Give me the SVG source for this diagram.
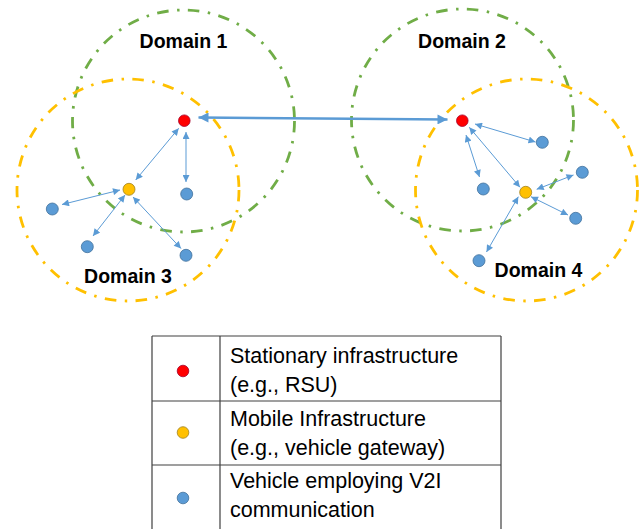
<svg xmlns="http://www.w3.org/2000/svg" width="644" height="529" viewBox="0 0 644 529">
<style>
.dom{fill:none;stroke-width:2.8;stroke-dasharray:11.5 8.5 2.5 8.5}
.g{stroke:#70AD47}
.y{stroke:#FFC000}
.red{fill:#FF0000;stroke:#A5002A;stroke-width:0.8}
.yel{fill:#FFC000;stroke:#A08020;stroke-width:0.8}
.blu{fill:#5B9BD5;stroke:#41719C;stroke-width:0.8}
.lbl{font-family:"Liberation Sans",Arial,sans-serif;font-weight:bold;font-size:19.5px;fill:#000;text-anchor:middle}
.lt{font-family:"Liberation Sans",Arial,sans-serif;font-size:21.5px;fill:#000}
.ar{stroke:#5B9BD5;stroke-width:1;fill:none;marker-start:url(#ah);marker-end:url(#ah)}
.tb{stroke:#404040;stroke-width:1.2;fill:none}
</style>
<defs>
<marker id="ah" viewBox="0 0 10 10" refX="10" refY="5" markerWidth="8" markerHeight="7" markerUnits="userSpaceOnUse" orient="auto-start-reverse"><path d="M0,0 L10,5 L0,10 z" fill="#5B9BD5"/></marker>
<marker id="ahb" viewBox="0 0 10 10" refX="10" refY="5" markerWidth="11" markerHeight="10" markerUnits="userSpaceOnUse" orient="auto-start-reverse"><path d="M0,0 L10,5 L0,10 z" fill="#5B9BD5"/></marker>
</defs>
<g id="domains">
<circle id="domain1-area" class="dom g" cx="183.5" cy="121" r="111"/>
<circle id="domain3-area" class="dom y" cx="128" cy="190" r="111"/>
<circle id="domain2-area" class="dom g" cx="462.5" cy="120" r="111"/>
<circle id="domain4-area" class="dom y" cx="526.5" cy="190" r="111"/>
</g>
<g id="labels">
<text class="lbl" x="183.5" y="48">Domain 1</text>
<text class="lbl" x="462" y="48">Domain 2</text>
<text class="lbl" x="128" y="283">Domain 3</text>
<text class="lbl" x="538.5" y="277">Domain 4</text>
</g>
<g id="connectors">
<line x1="198.5" y1="117.5" x2="447.5" y2="119.5" stroke="#5B9BD5" stroke-width="2.5" marker-start="url(#ahb)" marker-end="url(#ahb)"/>
<line class="ar" x1="178.7" y1="128.3" x2="135.7" y2="180"/>
<line class="ar" x1="186" y1="132" x2="186" y2="182"/>
<line class="ar" x1="120" y1="190" x2="62" y2="204.5"/>
<line class="ar" x1="125" y1="195" x2="93" y2="236"/>
<line class="ar" x1="133" y1="197" x2="181" y2="248.5"/>
<line class="ar" x1="475" y1="124" x2="535.5" y2="142"/>
<line class="ar" x1="466" y1="135" x2="479.5" y2="177"/>
<line class="ar" x1="469.3" y1="127.3" x2="520" y2="187.3"/>
<line class="ar" x1="536.7" y1="189.3" x2="573.5" y2="175"/>
<line class="ar" x1="531" y1="196.7" x2="568" y2="215"/>
<line class="ar" x1="518.3" y1="196.7" x2="486.5" y2="252"/>
</g>
<g id="domain1-nodes">
<circle id="rsu1" class="red" cx="184.3" cy="120.7" r="5.8"/>
<circle id="v1a" class="blu" cx="186.7" cy="194" r="6"/>
</g>
<g id="domain3-nodes">
<circle id="gw1" class="yel" cx="129" cy="189.3" r="6"/>
<circle id="v3a" class="blu" cx="52.3" cy="209" r="6"/>
<circle id="v3b" class="blu" cx="87.3" cy="246.7" r="6"/>
<circle id="v3c" class="blu" cx="186" cy="255.3" r="6"/>
</g>
<g id="domain2-nodes">
<circle id="rsu2" class="red" cx="462.3" cy="120.7" r="5.8"/>
<circle id="v2a" class="blu" cx="542.3" cy="142.3" r="6"/>
<circle id="v2b" class="blu" cx="483.3" cy="189" r="6"/>
</g>
<g id="domain4-nodes">
<circle id="gw2" class="yel" cx="525.7" cy="192.3" r="6"/>
<circle id="v4a" class="blu" cx="582.3" cy="172.3" r="6"/>
<circle id="v4b" class="blu" cx="575.7" cy="218.3" r="6"/>
<circle id="v4c" class="blu" cx="479" cy="260.7" r="6"/>
</g>
<g id="legend">
<path class="tb" d="M152,336 H501 M152,401 H501 M152,465 H501 M152,336 V530 M220,336 V530 M501,336 V530"/>
<circle class="red" cx="183" cy="371" r="5.8"/>
<circle class="yel" cx="183" cy="432.5" r="5.8"/>
<circle class="blu" cx="183" cy="498" r="5.8"/>
<text class="lt" x="230" y="363">Stationary infrastructure</text>
<text class="lt" x="230" y="392">(e.g., RSU)</text>
<text class="lt" x="230" y="426">Mobile Infrastructure</text>
<text class="lt" x="230" y="455">(e.g., vehicle gateway)</text>
<text class="lt" x="230" y="488">Vehicle employing V2I</text>
<text class="lt" x="230" y="517">communication</text>
</g>
</svg>
